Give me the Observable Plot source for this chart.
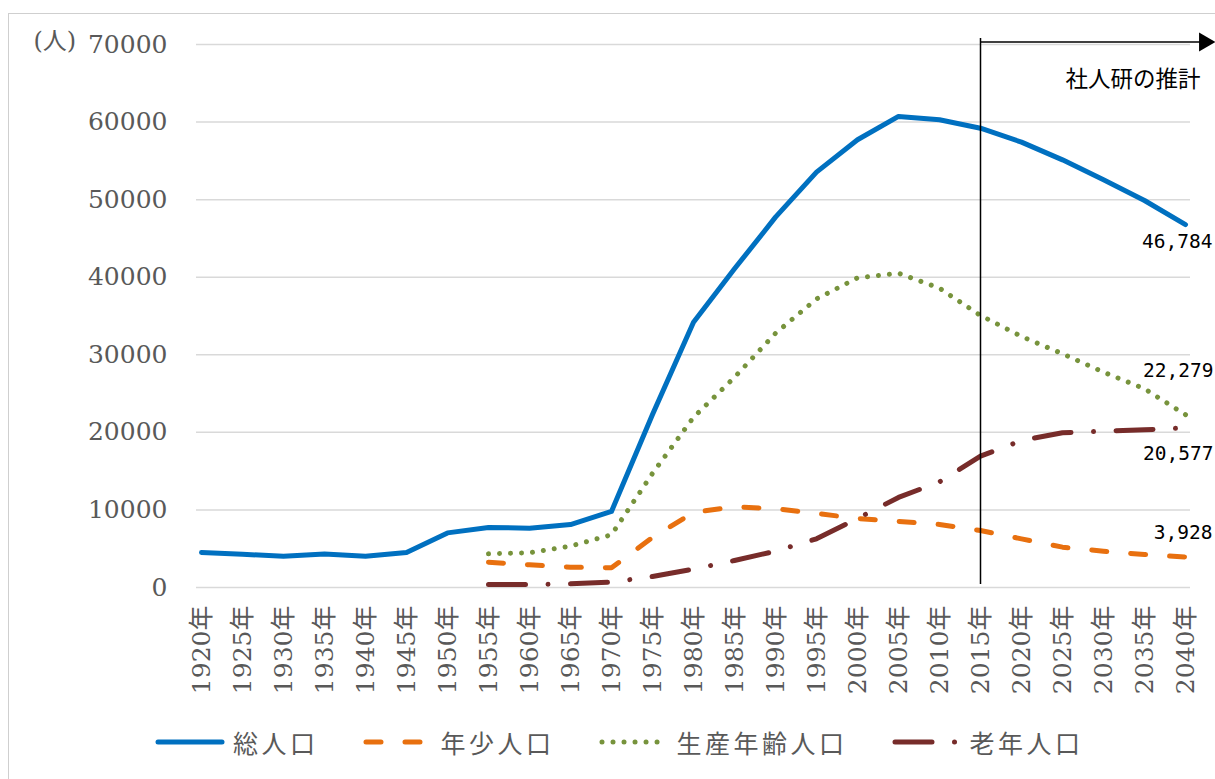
<!DOCTYPE html>
<html>
<head>
<meta charset="utf-8">
<script src="https://cdn.jsdelivr.net/npm/d3@7"></script>
<script src="https://cdn.jsdelivr.net/npm/@observablehq/plot@0.6"></script>
<style>
  html, body { margin: 0; padding: 0; background: #fff; overflow: hidden; }
  #frame { position: absolute; left: 8px; top: 13px; width: 1240px; height: 800px; border: 1.5px solid #cfcfcf; box-sizing: border-box; }
  #chart { position: absolute; left: 0; top: 0; }
  #legend { position: absolute; left: 155px; top: 724px; display: flex; align-items: center;
            font-family: "Noto Sans CJK JP", sans-serif; font-size: 25px; color: #595959; letter-spacing: 3.5px; }
  #legend .item { display: flex; align-items: center; margin-right: 44px; }
  #legend svg { margin-right: 8px; }
</style>
</head>
<body>
<div id="frame"></div>
<div id="chart"></div>
<div id="legend"></div>
<script>
const years = ["1920年","1925年","1930年","1935年","1940年","1945年","1950年","1955年","1960年","1965年","1970年","1975年","1980年","1985年","1990年","1995年","2000年","2005年","2010年","2015年","2020年","2025年","2030年","2035年","2040年"];
const total   = [4510, 4290, 4030, 4330, 4030, 4510, 7040, 7730, 7650, 8120, 9810, 22300, 34190, 41080, 47740, 53550, 57720, 60730, 60300, 59210, 57410, 55130, 52560, 49890, 46784];
const young   = [null, null, null, null, null, null, null, 3260, 2920, 2620, 2540, 6450, 9680, 10410, 10150, 9550, 8900, 8520, 8130, 7350, 6270, 5200, 4680, 4250, 3928];
const working = [null, null, null, null, null, null, null, 4340, 4470, 5330, 6800, 14710, 21940, 27100, 32770, 37200, 39910, 40520, 38580, 35070, 32360, 30130, 27760, 25620, 22279];
const elderly = [null, null, null, null, null, null, null, 390, 390, 470, 690, 1420, 2360, 3480, 4680, 6280, 8900, 11610, 13630, 16930, 18950, 19940, 20150, 20330, 20577];
const seriesNames = ["総人口", "年少人口", "生産年齢人口", "老年人口"];
const yTicks = [0, 10000, 20000, 30000, 40000, 50000, 60000, 70000];
const projectionStart = "2015年";
const projectionLabel = "社人研の推計";
const unitLabel = "(人)";

const styles = [
  {stroke: "#0070C0", strokeWidth: 5, strokeLinecap: "round", strokeLinejoin: "round"},
  {stroke: "#E8700F", strokeWidth: 5, strokeLinecap: "round", strokeLinejoin: "round", strokeDasharray: "15,24"},
  {stroke: "#77933C", strokeWidth: 5, strokeLinecap: "round", strokeLinejoin: "round", strokeDasharray: "0.01,11"},
  {stroke: "#772C2A", strokeWidth: 5, strokeLinecap: "round", strokeLinejoin: "round", strokeDasharray: "37,22.5,0.01,22.5"}
];

const seriesArrays = [total, young, working, elderly];
const rows = seriesArrays.map((arr, s) =>
  years.map((yr, i) => ({year: yr, value: arr[i], series: seriesNames[s]})).filter(d => d.value != null));

const last = years.length - 1;
const lastYear = years[last];
const topValue = yTicks[yTicks.length - 1];
const fmt = d3.format(",");
const labelFont = {fontFamily: "DejaVu Sans Mono, monospace", fontSize: 19.5, fill: "black", textAnchor: "end", lineAnchor: "bottom"};
const endLabel = (arr, dx, dy) => Plot.text([{year: lastYear, value: arr[last]}], {x: "year", y: "value", text: d => fmt(d.value), dx, dy, ...labelFont});

const anno = [{from: projectionStart, to: lastYear, top: topValue, label: projectionLabel}];

const plot = Plot.plot({
  width: 1215,
  height: 715,
  marginLeft: 196,
  marginRight: 25,
  marginTop: 44,
  marginBottom: 128,
  style: {fontFamily: "DejaVu Serif, 'Noto Sans CJK JP', serif", fontSize: "25px", color: "#595959", background: "transparent"},
  x: {type: "point", domain: years, padding: 0},
  y: {domain: [0, topValue]},
  marks: [
    Plot.ruleY(yTicks, {stroke: "#d9d9d9", strokeWidth: 1.5}),
    Plot.axisY({ticks: yTicks, tickSize: 0, tickPadding: 29, tickFormat: d => String(d), label: null, fill: "#595959"}),
    Plot.axisX({tickRotate: -90, tickSize: 0, tickPadding: 18, label: null, fill: "#595959"}),
    ...rows.map((r, s) => Plot.line(r, {x: "year", y: "value", ...styles[s]})),
    Plot.ruleX(anno, {x: "from", y1: 0, y2: "top", insetTop: -3, insetBottom: 6, stroke: "black", strokeWidth: 1.5}),
    Plot.ruleY(anno, {y: "top", x1: "from", x2: "to", dy: -2.5, insetRight: -16, stroke: "black", strokeWidth: 1.5}),
    Plot.dot(anno, {x: "to", y: "top", symbol: "triangle", rotate: 90, r: 7, fill: "black", stroke: "none", dx: 19, dy: -2.5}),
    Plot.text(anno, {x: "to", y: "top", text: "label", textAnchor: "end", lineAnchor: "bottom", dx: 15, dy: 42,
      fontFamily: "'Noto Sans CJK JP', sans-serif", fontSize: 22.5, fill: "black"}),
    Plot.text([unitLabel], {frameAnchor: "top-left", text: d => d, dx: -163, dy: -3, textAnchor: "start", lineAnchor: "middle",
      fontFamily: "DejaVu Serif, 'Noto Sans CJK JP', serif", fontSize: 24, fill: "#595959"}),
    endLabel(total, 27, 23),
    endLabel(working, 28, -38),
    endLabel(elderly, 28, 32),
    endLabel(young, 27, -18)
  ]
});
document.getElementById("chart").appendChild(plot);

// legend
const legend = document.getElementById("legend");
seriesNames.forEach((name, s) => {
  const item = document.createElement("div");
  item.className = "item";
  const st = styles[s];
  item.innerHTML = `<svg width="70" height="20"><line x1="3" y1="10" x2="67" y2="10" stroke="${st.stroke}" stroke-width="${st.strokeWidth}" stroke-linecap="round" ${st.strokeDasharray ? `stroke-dasharray="${st.strokeDasharray}"` : ""}/></svg><span>${name}</span>`;
  legend.appendChild(item);
});
</script>
</body>
</html>
